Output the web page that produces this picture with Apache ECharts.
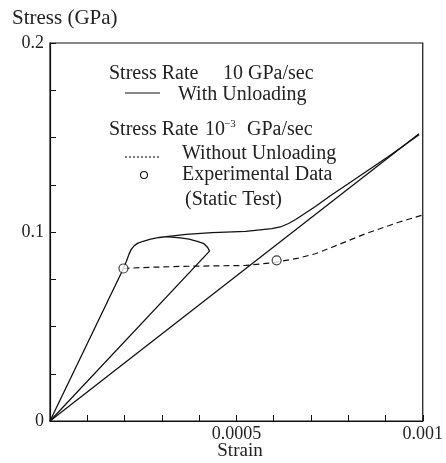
<!DOCTYPE html>
<html><head><meta charset="utf-8">
<script src="https://cdn.jsdelivr.net/npm/echarts@6/dist/echarts.min.js"></script>
<style>html,body{margin:0;padding:0;background:#fff}#c{width:446px;height:463px}</style>
</head><body><div id="c"></div>
<script>
// ---- data ----
const loadingPath = [
  [0,0],[0.000197,0.0807],[0.000205,0.0845],[0.000212,0.0883],[0.000218,0.0908],[0.000226,0.0928],
  [0.000236,0.0941],[0.000250,0.0951],[0.000270,0.0962],[0.000293,0.0971],[0.000330,0.0980],[0.000365,0.0987],
  [0.000435,0.0997],[0.000525,0.1003],[0.000595,0.1018],[0.000621,0.1029],[0.000640,0.1045],
  [0.000659,0.1066],[0.000712,0.1135],[0.000755,0.1196],[0.000800,0.1255],[0.000907,0.1398],[0.000990,0.1515]
];
const unloadingBranch = [
  [0.000310,0.0975],[0.000350,0.0969],[0.000373,0.0962],[0.000395,0.0950],[0.000413,0.0938],
  [0.000423,0.0918],[0.000428,0.0899],[0,0]
];
const reloadLine = [[0,0],[0.000990,0.1520]];
const staticCurve = [
  [0.000197,0.0807],[0.000250,0.0812],[0.000350,0.0818],[0.000450,0.0821],[0.000525,0.0823],
  [0.000600,0.0838],[0.000667,0.0862],[0.000712,0.0885],[0.000755,0.0918],[0.000845,0.0990],
  [0.000933,0.1050],[0.001000,0.1090]
];
const experimentalData = [[0.000197,0.0807],[0.000608,0.0850]];
const xTickLabels = ['0.0005','0.001'];
const yTickLabels = ['0','0.1','0.2'];

const FONT = '"Liberation Serif", "Times New Roman", serif';
const chart = echarts.init(document.getElementById('c'));
const lineStyle = {color:'#111', width:1.3};
chart.setOption({
  animation:false,
  backgroundColor:'#fff',
  grid:{left:50, right:21, top:43, bottom:42, show:true, borderColor:'#111', borderWidth:1.2},
  xAxis:{type:'value', min:0, max:0.001, interval:0.0001,
    axisLine:{lineStyle:{color:'#111', width:1.2}},
    axisTick:{inside:true, length:6, lineStyle:{color:'#111'}},
    splitLine:{show:false},
    axisLabel:{margin:4, color:'#222', fontFamily:FONT, fontSize:18,
      formatter:v=>{const s=v.toFixed(4).replace(/0+$/,''); return xTickLabels.includes(s)?s:'';}}
  },
  yAxis:{type:'value', min:0, max:0.2, interval:0.025,
    axisLine:{lineStyle:{color:'#111', width:1.2}},
    axisTick:{inside:true, length:6, lineStyle:{color:'#111'}},
    splitLine:{show:false},
    axisLabel:{margin:6, color:'#222', fontFamily:FONT, fontSize:18,
      formatter:v=>{const s=(Math.round(v*1000)/1000).toString(); return yTickLabels.includes(s)?s:'';}}
  },
  series:[
    {type:'line', data:loadingPath, symbol:'none', lineStyle:lineStyle},
    {type:'line', data:unloadingBranch, symbol:'none', lineStyle:lineStyle},
    {type:'line', data:reloadLine, symbol:'none', lineStyle:lineStyle},
    {type:'line', data:staticCurve, symbol:'none', lineStyle:{color:'#111', width:1.2, type:[6,4]}},
    {type:'scatter', data:experimentalData, symbol:'circle', symbolSize:9,
      itemStyle:{color:'#fff', borderColor:'#111', borderWidth:1.2}, z:5}
  ],
  graphic:[
    {type:'text', left:12, top:8, style:{text:'Stress (GPa)', font:'21px '+FONT, fill:'#222'}},
    {type:'text', x:240, y:451, style:{text:'Strain', font:'19px '+FONT, fill:'#222', align:'center', verticalAlign:'middle'}},
    {type:'text', x:109, y:74, style:{text:'Stress Rate', font:'20px '+FONT, fill:'#222', verticalAlign:'middle'}},
    {type:'text', x:223, y:74, style:{text:'10 GPa/sec', font:'20px '+FONT, fill:'#222', verticalAlign:'middle'}},
    {type:'line', shape:{x1:125, y1:93, x2:160, y2:93}, style:{stroke:'#111', lineWidth:1.2}},
    {type:'text', x:178, y:95, style:{text:'With Unloading', font:'20px '+FONT, fill:'#222', verticalAlign:'middle'}},
    {type:'text', x:109, y:130, style:{text:'Stress Rate', font:'20px '+FONT, fill:'#222', verticalAlign:'middle'}},
    {type:'text', x:205, y:130, style:{text:'10', font:'20px '+FONT, fill:'#222', verticalAlign:'middle'}},
    {type:'text', x:224, y:124, style:{text:'−3', font:'11px '+FONT, fill:'#222', verticalAlign:'middle'}},
    {type:'text', x:247, y:130, style:{text:'GPa/sec', font:'20px '+FONT, fill:'#222', verticalAlign:'middle'}},
    {type:'line', shape:{x1:125, y1:157, x2:160, y2:157}, style:{stroke:'#111', lineWidth:1.1, lineDash:[2,2]}},
    {type:'text', x:182, y:154, style:{text:'Without Unloading', font:'20px '+FONT, fill:'#222', verticalAlign:'middle'}},
    {type:'circle', shape:{cx:144, cy:175, r:3.5}, style:{fill:'#fff', stroke:'#111', lineWidth:1.1}},
    {type:'text', x:182, y:175, style:{text:'Experimental Data', font:'20px '+FONT, fill:'#222', verticalAlign:'middle'}},
    {type:'text', x:185, y:200, style:{text:'(Static Test)', font:'20px '+FONT, fill:'#222', verticalAlign:'middle'}}
  ]
});
</script></body></html>
